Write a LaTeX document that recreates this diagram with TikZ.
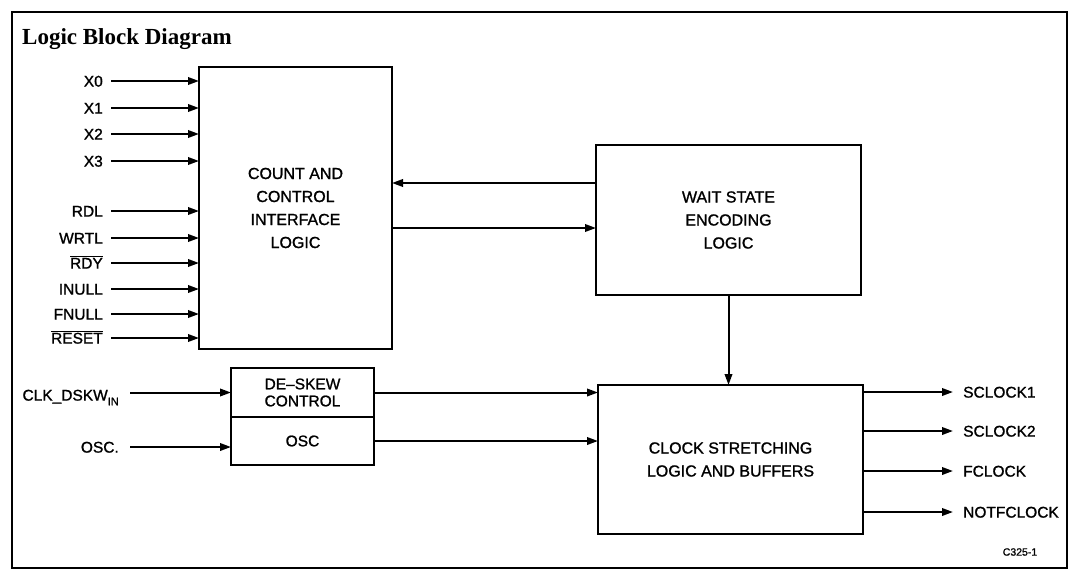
\documentclass[tikz,border=0pt]{standalone}
\usepackage{fontspec}
\setmainfont{Liberation Sans}[FakeBold=1.2]
\newfontfamily\titlefont{Liberation Serif}
\usetikzlibrary{arrows.meta,calc}
\newcommand\ovl[1]{$\overline{\mbox{#1}}$}
\begin{document}
\begin{tikzpicture}[x=1pt,y=-1pt,
  blk/.style={draw,line width=2pt,rectangle,inner sep=0pt,outer sep=0pt,align=center,
    font=\fontsize{16}{23}\selectfont},
  inlbl/.style={anchor=east,inner sep=0pt,text height=11.2pt,text depth=0pt,
    font=\fontsize{15.5}{18}\selectfont},
  outlbl/.style={inlbl,anchor=west},
  arr/.style={line width=2pt,-{Triangle[length=11pt,width=7.5pt]}}
]
\useasboundingbox (0,0) rectangle (1073,578);
\draw[line width=1.6pt] (12,12) rectangle (1067,568);
\node[anchor=base west,inner sep=0pt,font=\titlefont\bfseries\fontsize{23}{26}\selectfont] (title) at (22,45) {Logic Block Diagram};

% blocks
\node[blk,minimum width=193pt,minimum height=282pt] (count) at (295.5,208) {COUNT AND\\CONTROL\\INTERFACE\\LOGIC};
\node[blk,minimum width=265pt,minimum height=150pt] (wait) at (728.5,220) {WAIT STATE\\ENCODING\\LOGIC};
\node[blk,minimum width=143pt,minimum height=49pt,font=\fontsize{15.5}{17}\selectfont] (deskew) at (302.5,392.5) {DE--SKEW\\CONTROL};
\node[blk,minimum width=143pt,minimum height=48pt,anchor=north,font=\fontsize{15.5}{17}\selectfont] (osc) at (deskew.south) {OSC};
\node[blk,minimum width=265pt,minimum height=149pt] (clock) at (730.5,459.5) {CLOCK STRETCHING\\LOGIC AND BUFFERS};

% inputs to count block
\foreach \n/\y/\t in {x0/81/X0, x1/108/X1, x2/134/X2, x3/161/X3,
  rdl/211/RDL, wrtl/238/WRTL, rdy/263/{\ovl{RDY}}, inull/289/INULL,
  fnull/314/FNULL, reset/338/{\ovl{RESET}}}{
  \node[inlbl] (l\n) at (103,\y) {\t};
  \draw[arr] ([xshift=8pt]l\n.east) -- (l\n -| count.west);
}

% count <-> wait
\coordinate (ya) at (0,183);
\coordinate (yb) at (0,228);
\draw[arr] (wait.west |- ya) -- (count.east |- ya);
\draw[arr] (count.east |- yb) -- (wait.west |- yb);

% wait -> clock
\draw[arr] (wait.south) -- (wait.south |- clock.north);

% clk inputs
\node[inlbl,anchor=east] (lclk) at (119,395) {CLK\_DSKW\raisebox{-0.3em}{\fontsize{11}{11}\selectfont IN}};
\node[inlbl] (losc) at (119,447) {OSC.};
\draw[arr] ([xshift=11pt]lclk.east |- deskew.west) -- (deskew.west);
\draw[arr] ([xshift=11pt]losc.east) -- (losc -| osc.west);

\draw[arr] (deskew.east) -- (deskew.east -| clock.west);
\draw[arr] (osc.east) -- (osc.east -| clock.west);

% outputs
\foreach \n/\y/\t in {sc1/392/SCLOCK1, sc2/431/SCLOCK2, fc/471/FCLOCK, nfc/512/NOTFCLOCK}{
  \node[outlbl] (o\n) at (963,\y) {\t};
  \draw[arr] (o\n -| clock.east) -- ([xshift=-10pt]o\n.west);
}

\node[inner sep=0pt,font=\fontsize{10.5}{12}\selectfont] (ref) at (1020,552) {C325-1};
\end{tikzpicture}
\end{document}
